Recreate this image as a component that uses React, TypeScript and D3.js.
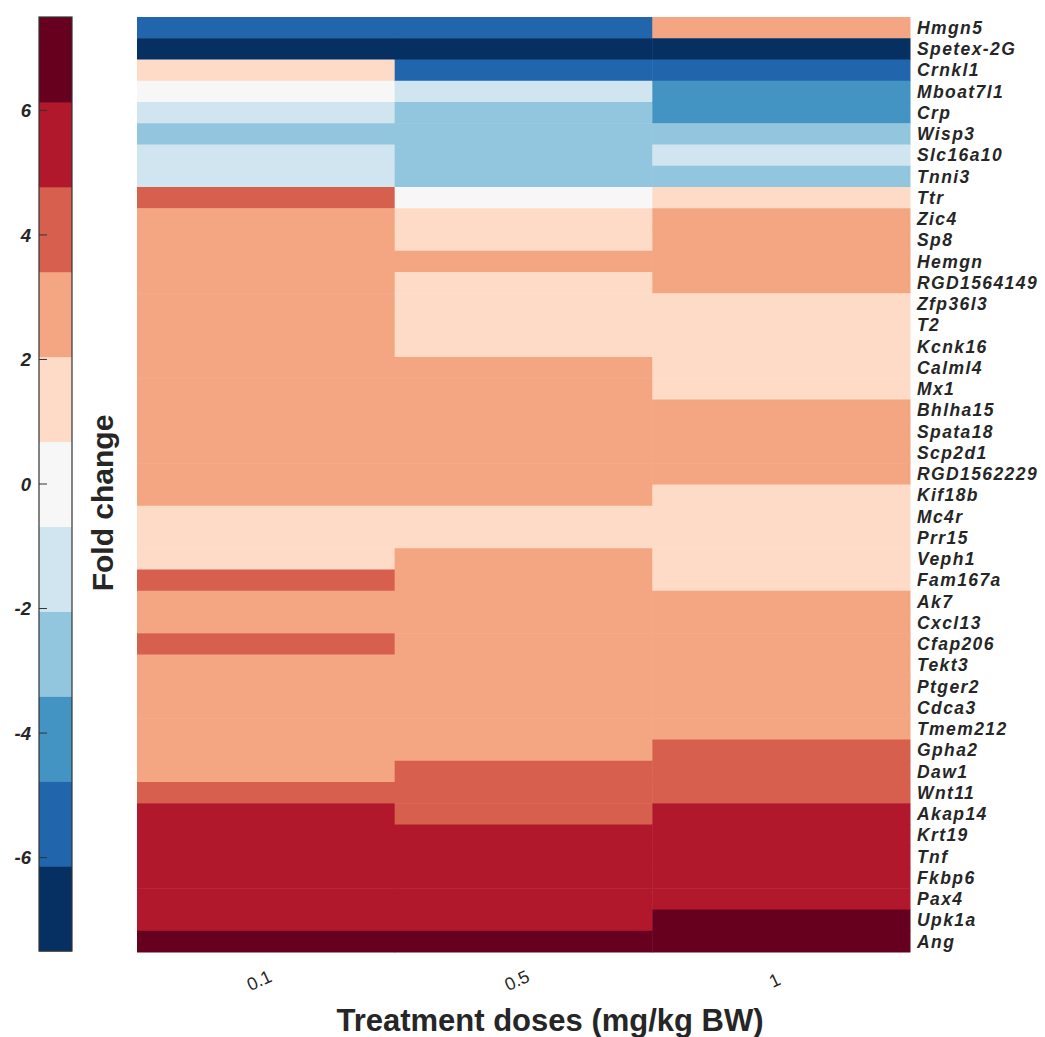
import React from "react";
import * as d3 from "d3";

const genes = [
  "Hmgn5", "Spetex-2G", "Crnkl1", "Mboat7l1", "Crp", "Wisp3", "Slc16a10", "Tnni3", "Ttr",
  "Zic4", "Sp8", "Hemgn", "RGD1564149", "Zfp36l3", "T2", "Kcnk16", "Calml4", "Mx1",
  "Bhlha15", "Spata18", "Scp2d1", "RGD1562229", "Kif18b", "Mc4r", "Prr15", "Veph1",
  "Fam167a", "Ak7", "Cxcl13", "Cfap206", "Tekt3", "Ptger2", "Cdca3", "Tmem212", "Gpha2",
  "Daw1", "Wnt11", "Akap14", "Krt19", "Tnf", "Fkbp6", "Pax4", "Upk1a", "Ang",
];

const doses = ["0.1", "0.5", "1"];

// estimated fold changes, one value per gene (same order as genes)
const fc01 = [
  -5.5, -7.0, 1.4, 0, -1.4, -2.7, -1.4, -1.4, 4.1,
  2.7, 2.7, 2.7, 2.7, 2.7, 2.7, 2.7, 2.7, 2.7,
  2.7, 2.7, 2.7, 2.7, 2.7, 1.4, 1.4, 1.4,
  4.1, 2.7, 2.7, 4.1, 2.7, 2.7, 2.7, 2.7, 2.7,
  2.7, 4.1, 5.5, 5.5, 5.5, 5.5, 5.5, 5.5, 7.0,
];
const fc05 = [
  -5.5, -7.0, -5.5, -1.4, -2.7, -2.7, -2.7, -2.7, 0,
  1.4, 1.4, 2.7, 1.4, 1.4, 1.4, 1.4, 2.7, 2.7,
  2.7, 2.7, 2.7, 2.7, 2.7, 1.4, 1.4, 2.7,
  2.7, 2.7, 2.7, 2.7, 2.7, 2.7, 2.7, 2.7, 2.7,
  4.1, 4.1, 4.1, 5.5, 5.5, 5.5, 5.5, 5.5, 7.0,
];
const fc1 = [
  2.7, -7.0, -5.5, -4.1, -4.1, -2.7, -1.4, -2.7, 1.4,
  2.7, 2.7, 2.7, 2.7, 1.4, 1.4, 1.4, 1.4, 1.4,
  2.7, 2.7, 2.7, 2.7, 1.4, 1.4, 1.4, 1.4,
  1.4, 2.7, 2.7, 2.7, 2.7, 2.7, 2.7, 2.7, 4.1,
  4.1, 4.1, 5.5, 5.5, 5.5, 5.5, 5.5, 7.0, 7.0,
];
const series = [fc01, fc05, fc1];

const cbTicks = [-6, -4, -2, 0, 2, 4, 6];

const W = 1045;
const H = 1037;
const font = "'Liberation Sans', Arial, Helvetica, sans-serif";
const ink = "#262626";

export default function App() {
  const x = d3.scaleBand().domain(doses).range([137, 910]);
  const y = d3.scaleBand().domain(genes).range([17, 952]);
  const palette = [...d3.schemeRdBu[11]].reverse();
  const color = d3.scaleQuantize<string>().domain([-7.5, 7.5]).range(palette);

  const cbY = d3.scaleLinear().domain([-7.5, 7.5]).range([951, 17]);
  const cbX0 = 39;
  const cbW = 33;
  const step = 15 / palette.length;

  const cells: { d: string; g: string; v: number }[] = [];
  doses.forEach((d, j) =>
    genes.forEach((g, i) => cells.push({ d, g, v: series[j][i] }))
  );

  return (
    <svg
      width={W}
      height={H}
      style={{ position: "absolute", left: 0, top: 0, background: "#fff" }}
      fontFamily={font}
    >
      {/* heatmap */}
      <g>
        {cells.map((c, k) => (
          <rect
            key={k}
            x={x(c.d)}
            y={y(c.g)}
            width={x.bandwidth() + 0.5}
            height={y.bandwidth() + 0.5}
            fill={color(c.v)}
          />
        ))}
      </g>

      {/* gene labels */}
      <g fontSize={17.5} fontWeight="bold" fontStyle="italic" fill={ink} letterSpacing={1.4}>
        {genes.map((g) => (
          <text key={g} x={917} y={(y(g) as number) + y.bandwidth() / 2} dy="0.36em">
            {g}
          </text>
        ))}
      </g>

      {/* dose labels */}
      <g fontSize={18} fill={ink}>
        {doses.map((d) => {
          const cx = (x(d) as number) + x.bandwidth() / 2 - 4;
          return (
            <text
              key={d}
              transform={`translate(${cx},${986}) rotate(-25)`}
              textAnchor="middle"
            >
              {d}
            </text>
          );
        })}
      </g>

      <text
        x={550}
        y={1031}
        textAnchor="middle"
        fontSize={31}
        fontWeight="bold"
        fill={ink}
      >
        Treatment doses (mg/kg BW)
      </text>

      {/* colorbar */}
      <g>
        {palette.map((p, k) => {
          const lo = -7.5 + k * step;
          const hi = lo + step;
          return (
            <rect
              key={p}
              x={cbX0}
              y={cbY(hi)}
              width={cbW}
              height={cbY(lo) - cbY(hi) + 0.5}
              fill={p}
            />
          );
        })}
        <rect
          x={cbX0}
          y={cbY(7.5)}
          width={cbW}
          height={cbY(-7.5) - cbY(7.5)}
          fill="none"
          stroke="#333"
          strokeWidth={1.2}
        />
        {cbTicks.map((t) => (
          <g key={t} transform={`translate(0,${cbY(t)})`}>
            <line x1={cbX0} x2={cbX0 + 8} stroke="#333" strokeWidth={1} />
            <text
              x={31}
              dy="0.36em"
              textAnchor="end"
              fontSize={18.5}
              fontWeight="bold"
              fontStyle="italic"
              fill={ink}
            >
              {t}
            </text>
          </g>
        ))}
        <text
          transform={`translate(113,503) rotate(-90)`}
          textAnchor="middle"
          fontSize={30}
          fontWeight="bold"
          fill={ink}
        >
          Fold change
        </text>
      </g>
    </svg>
  );
}
